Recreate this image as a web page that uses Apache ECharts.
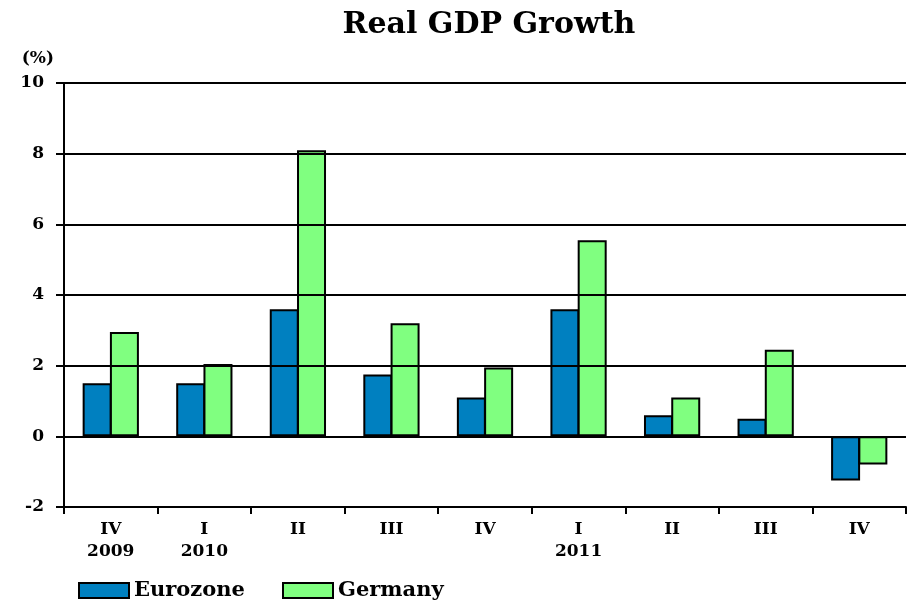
<!DOCTYPE html>
<html>
<head>
<meta charset="utf-8">
<script src="https://cdn.jsdelivr.net/npm/echarts@6/dist/echarts.min.js"></script>
<style>
  html, body { margin: 0; padding: 0; background: #fff; }
  #chart { width: 908px; height: 602px; }
</style>
</head>
<body>
<div id="chart"></div>
<script>
// Quarter labels (quarter on first line, year below where a year starts)
const quarters = ['IV\n2009', 'I\n2010', 'II', 'III', 'IV', 'I\n2011', 'II', 'III', 'IV'];
// Quarter-on-quarter annualised real GDP growth, %
const eurozone = [1.5, 1.5, 3.6, 1.75, 1.1, 3.6, 0.6, 0.5, -1.25];
const germany  = [2.95, 2.05, 8.1, 3.2, 1.95, 5.55, 1.1, 2.45, -0.8];
// Value axis ticks
const yMin = -2, yMax = 10, yStep = 2;

const serif = '"DejaVu Serif", "Liberation Serif", serif';
const legendText = { fontFamily: serif, fontWeight: 'bold', fontSize: 21, color: '#000' };

const chart = echarts.init(document.getElementById('chart'));
chart.setOption({
  animation: false,
  backgroundColor: '#ffffff',
  title: {
    text: 'Real GDP Growth',
    top: 5,
    left: 484,
    textAlign: 'center',
    textStyle: { fontFamily: serif, fontWeight: 'bold', fontSize: 30, color: '#000' }
  },
  legend: [
    {
      left: 73, top: 575, itemWidth: 50, itemHeight: 15, icon: 'rect',
      itemStyle: { borderColor: '#000', borderWidth: 2 },
      textStyle: legendText, data: ['Eurozone']
    },
    {
      left: 277, top: 575, itemWidth: 50, itemHeight: 15, icon: 'rect',
      itemStyle: { borderColor: '#000', borderWidth: 2 },
      textStyle: legendText, data: ['Germany']
    }
  ],
  grid: { left: 64, right: 2, top: 83, bottom: 95, containLabel: false },
  xAxis: {
    type: 'category',
    data: quarters,
    position: 'bottom',
    z: 5,
    axisLine: { onZero: false, lineStyle: { color: '#000', width: 2 } },
    axisTick: { show: true, length: 7, lineStyle: { color: '#000', width: 2 } },
    axisLabel: {
      margin: 12,
      fontFamily: serif,
      fontWeight: 'bold',
      fontSize: 17,
      lineHeight: 22,
      color: '#000'
    }
  },
  yAxis: {
    type: 'value',
    min: yMin,
    max: yMax,
    interval: yStep,
    z: 5,
    name: '(%)',
    nameLocation: 'end',
    nameGap: 16,
    nameTextStyle: { fontFamily: serif, fontWeight: 'bold', fontSize: 17, color: '#000', align: 'right', padding: [0, 10, 0, 0] },
    axisLine: { show: true, lineStyle: { color: '#000', width: 2 } },
    axisTick: { show: true, length: 8, lineStyle: { color: '#000', width: 2 } },
    axisLabel: {
      margin: 20,
      fontFamily: serif,
      fontWeight: 'bold',
      fontSize: 17,
      color: '#000'
    },
    splitLine: { show: true, lineStyle: { color: '#000', width: 2 } }
  },
  series: [
    {
      name: 'Eurozone',
      type: 'bar',
      data: eurozone,
      barWidth: 29,
      barGap: '-6%',
      z: 2,
      itemStyle: { color: '#0080c0', borderColor: '#000', borderWidth: 2, borderRadius: 0 }
    },
    {
      name: 'Germany',
      type: 'bar',
      data: germany,
      barWidth: 29,
      barGap: '-6%',
      z: 2,
      itemStyle: { color: '#80ff80', borderColor: '#000', borderWidth: 2, borderRadius: 0 }
    }
  ]
});
</script>
</body>
</html>
